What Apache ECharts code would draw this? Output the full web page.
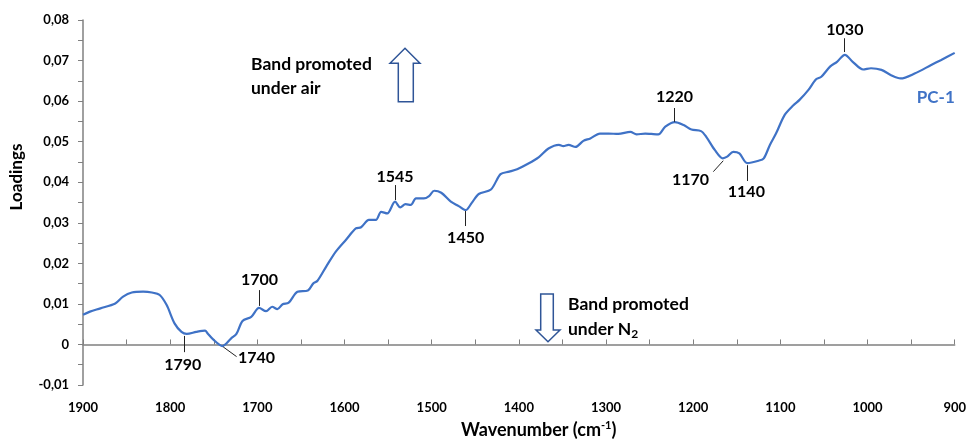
<!DOCTYPE html>
<html>
<head>
<meta charset="utf-8">
<script src="https://cdn.jsdelivr.net/npm/echarts@6/dist/echarts.min.js"></script>
<style>
  html, body { margin: 0; padding: 0; background: #fff; }
  #chart { width: 969px; height: 440px; }
</style>
</head>
<body>
<div id="chart"></div>
<script>
// PC-1 loadings (wavenumber, loading)
const wavenumbers = [1900, 1892, 1880, 1863, 1854, 1844, 1831, 1821, 1812, 1804, 1795, 1787, 1781, 1770, 1760, 1757, 1751, 1740, 1730, 1724,
  1717, 1707, 1698, 1690, 1683, 1677, 1671, 1664, 1654, 1642, 1636, 1631, 1621, 1610, 1598, 1587, 1581, 1572, 1564, 1558,
  1551, 1542, 1536, 1530, 1524, 1518, 1509, 1503, 1497, 1489, 1478, 1469, 1461, 1454, 1446, 1432, 1421, 1411, 1402, 1389,
  1377, 1366, 1354, 1349, 1343, 1335, 1326, 1318, 1307, 1297, 1286, 1272, 1265, 1255, 1248, 1240, 1232, 1221, 1211, 1202,
  1191, 1185, 1175, 1166, 1161, 1154, 1147, 1138, 1125, 1119, 1112, 1105, 1095, 1085, 1078, 1068, 1059, 1053, 1043, 1035,
  1026, 1017, 1005, 996, 984, 973, 962, 946, 927, 916, 900];
const loadings = [0.0073, 0.0081, 0.0089, 0.0101, 0.0118, 0.0128, 0.0130, 0.0128, 0.0122, 0.0097, 0.0052, 0.0031, 0.0026, 0.0031, 0.0034, 0.0027, 0.0013, -0.0004, 0.0015, 0.0026,
  0.0058, 0.0068, 0.0090, 0.0082, 0.0093, 0.0087, 0.0099, 0.0103, 0.0130, 0.0133, 0.0150, 0.0157, 0.0192, 0.0229, 0.0259, 0.0286, 0.0289, 0.0307, 0.0307, 0.0327,
  0.0323, 0.0352, 0.0338, 0.0346, 0.0344, 0.0360, 0.0360, 0.0366, 0.0379, 0.0374, 0.0352, 0.0341, 0.0331, 0.0349, 0.0371, 0.0382, 0.0420, 0.0426, 0.0432, 0.0446,
  0.0462, 0.0483, 0.0492, 0.0489, 0.0492, 0.0487, 0.0502, 0.0508, 0.0520, 0.0520, 0.0519, 0.0524, 0.0518, 0.0520, 0.0519, 0.0518, 0.0537, 0.0548, 0.0541, 0.0530,
  0.0526, 0.0512, 0.0479, 0.0459, 0.0463, 0.0475, 0.0471, 0.0447, 0.0453, 0.0459, 0.0492, 0.0520, 0.0566, 0.0590, 0.0603, 0.0627, 0.0654, 0.0660, 0.0685, 0.0697,
  0.0714, 0.0697, 0.0678, 0.0681, 0.0677, 0.0664, 0.0656, 0.0668, 0.0689, 0.0701, 0.0719];

// band annotations: label text, label position, leader line from / to
const bandLabels = ['1790', '1740', '1700', '1545', '1450', '1220', '1170', '1140', '1030'];
const bandLabelPos = [[1785.6, -0.0051], [1701, -0.0033], [1697.5, 0.0159], [1542, 0.0413], [1461, 0.0262], [1221.5, 0.0610], [1203, 0.0405], [1139, 0.0376], [1026, 0.0775]];
const bandLineFrom = [[1784.4, 0.0021], [1739.2, -0.0006], [1698.3, 0.0095], [1542, 0.0356], [1461, 0.0329], [1221.5, 0.0549], [1165.5, 0.0453], [1138.3, 0.0442], [1026.2, 0.0721]];
const bandLineTo = [[1784.4, -0.0019], [1723.8, -0.0030], [1698.3, 0.0134], [1542, 0.0393], [1461, 0.0292], [1221.5, 0.0583], [1176.9, 0.0426], [1138.3, 0.0403], [1026.2, 0.0755]];

const blue = '#3F72C6';
const font = 'Lato';

const chart = echarts.init(document.getElementById('chart'));

const option = {
  animation: false,
  textStyle: { fontFamily: font },
  grid: { left: 83, right: 11, top: 20, bottom: 55 },
  xAxis: {
    type: 'value',
    inverse: true,
    min: 900,
    max: 1900,
    interval: 100,
    axisLine: { lineStyle: { color: '#808080', width: 1.5 } },
    axisTick: { inside: true, length: 5, lineStyle: { color: '#808080' } },
    minorTick: { show: true, splitNumber: 2, length: 5, lineStyle: { color: '#808080' } },
    splitLine: { show: false },
    axisLabel: { color: '#000', fontWeight: 'bold', fontSize: 13, margin: 16, fontFamily: font, formatter: v => String(v) }
  },
  yAxis: {
    type: 'value',
    min: -0.01,
    max: 0.08,
    interval: 0.01,
    axisLine: { show: true, lineStyle: { color: '#808080', width: 1.5 } },
    axisTick: { show: true, length: 5, lineStyle: { color: '#808080' } },
    minorTick: { show: true, splitNumber: 2, length: 5, lineStyle: { color: '#808080' } },
    splitLine: { show: false },
    axisLabel: {
      color: '#000', fontWeight: 'bold', fontSize: 13, margin: 14, fontFamily: font,
      formatter: v => Math.abs(v) < 1e-9 ? '0' : v.toFixed(2).replace('.', ',')
    }
  },
  series: [{
    name: 'PC-1',
    type: 'line',
    data: wavenumbers.map((w, i) => [w, loadings[i]]),
    smooth: 0.3,
    symbol: 'none',
    lineStyle: { color: blue, width: 2.2 },
    markLine: {
      silent: true,
      symbol: ['none', 'none'],
      label: { show: false },
      lineStyle: { color: '#222', width: 1, type: 'solid' },
      data: bandLineFrom.map((p, i) => [{ coord: p }, { coord: bandLineTo[i] }])
    },
    markPoint: {
      silent: true,
      symbol: 'circle',
      symbolSize: 0,
      label: {
        show: true, position: 'inside', formatter: p => p.name,
        color: '#000', fontWeight: 'bold', fontSize: 16, fontFamily: font
      },
      data: bandLabels.map((t, i) => ({ name: t, coord: bandLabelPos[i] })).concat([{
        name: 'PC-1', coord: [921.7, 0.0610],
        label: { color: blue, fontSize: 17 }
      }])
    }
  }],
  graphic: [
    {
      type: 'polygon',
      shape: { points: [[390, 63.3], [405, 48.3], [420, 63.3], [413.3, 63.3], [413.3, 101.7], [398.3, 101.7], [398.3, 63.3]] },
      style: { fill: '#fff', stroke: '#2F5597', lineWidth: 1.5 }
    },
    {
      type: 'polygon',
      shape: { points: [[540.7, 294], [553.3, 294], [553.3, 330], [560, 330], [548, 341.7], [536, 330], [540.7, 330]] },
      style: { fill: '#fff', stroke: '#2F5597', lineWidth: 1.5 }
    },
    {
      type: 'text', left: 251, top: 52,
      style: { text: 'Band promoted\nunder air', fontFamily: font, fontWeight: 'bold', fontSize: 17.5, lineHeight: 24, fill: '#000' }
    },
    {
      type: 'text', left: 568, top: 292,
      style: {
        text: 'Band promoted\nunder N{sub|2}', fontFamily: font, fontWeight: 'bold', fontSize: 17.5, lineHeight: 25, fill: '#000',
        rich: { sub: { fontFamily: font, fontWeight: 'bold', fontSize: 12, lineHeight: 25, padding: [10, 0, 0, 0], fill: '#000' } }
      }
    },
    {
      type: 'text', left: 461, top: 420,
      style: {
        text: 'Wavenumber (cm{sup|-1})', fontFamily: font, fontWeight: 'bold', fontSize: 18, fill: '#000',
        rich: { sup: { fontFamily: font, fontWeight: 'bold', fontSize: 11, padding: [0, 0, 9, 0], fill: '#000' } }
      }
    },
    {
      type: 'text', x: 17, y: 177, rotation: Math.PI / 2,
      style: { text: 'Loadings', fontFamily: font, fontWeight: 'bold', fontSize: 17, fill: '#000', align: 'center', verticalAlign: 'middle' }
    }
  ]
};

chart.setOption(option);
window.addEventListener('resize', () => chart.resize());
</script>
</body>
</html>
